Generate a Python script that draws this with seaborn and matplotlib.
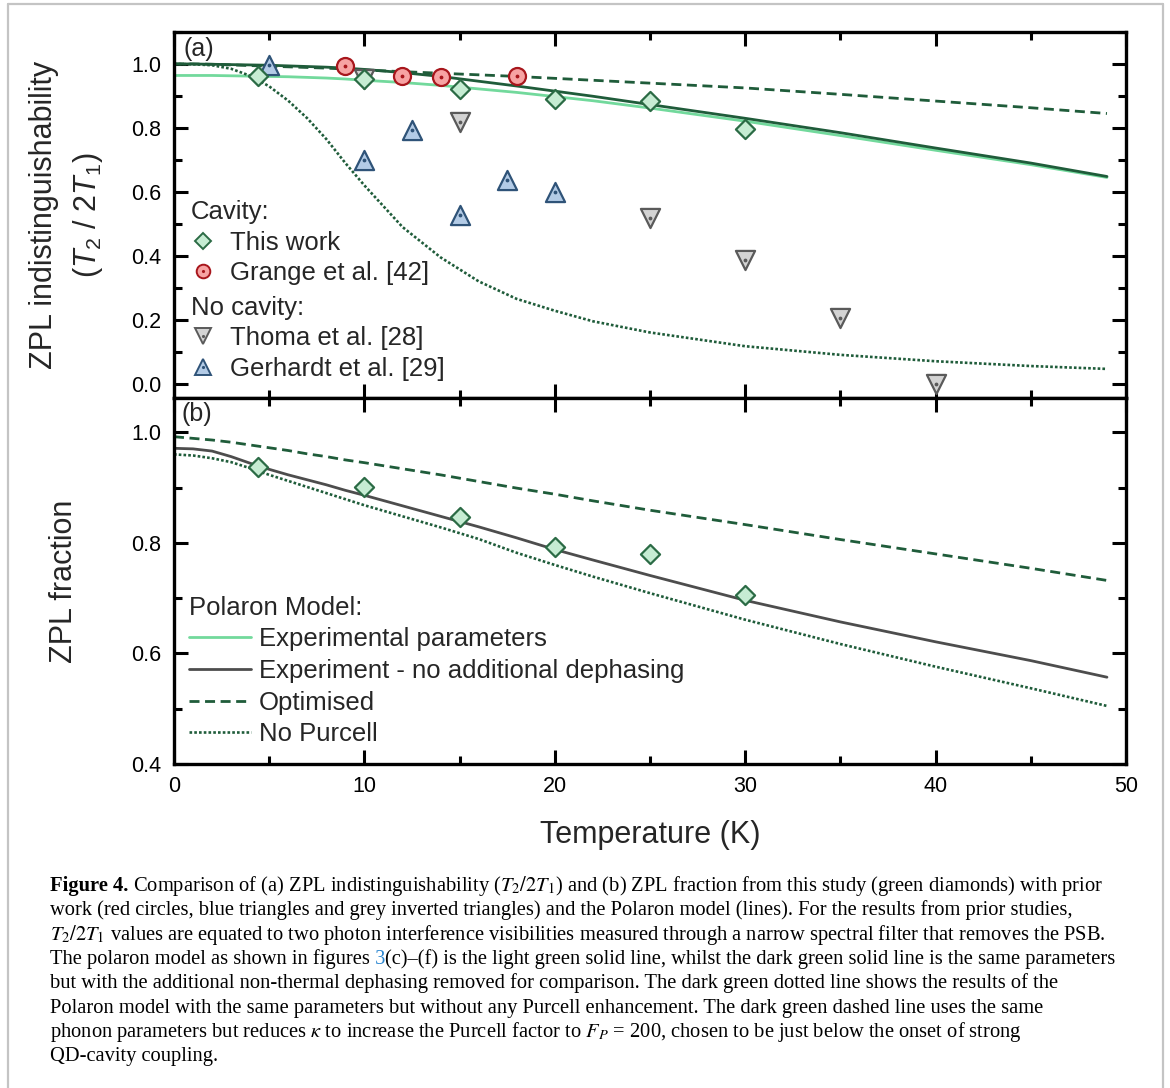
import matplotlib
matplotlib.use("Agg")
import matplotlib.pyplot as plt
import seaborn as sns
import pandas as pd
from matplotlib import font_manager
from matplotlib.ticker import MultipleLocator
from matplotlib.lines import Line2D

# measured points, panel (a): ZPL indistinguishability
temp_work = [4.4, 10, 15, 20, 25, 30]
indist_work = [0.961, 0.954, 0.922, 0.891, 0.885, 0.797]
temp_grange = [9, 12, 14, 18]
indist_grange = [0.993, 0.961, 0.960, 0.963]
temp_thoma = [10, 15, 25, 30, 35, 40]
indist_thoma = [0.953, 0.820, 0.517, 0.388, 0.206, 0.0]
temp_gerhardt = [5, 10, 12.5, 15, 17.5, 20]
indist_gerhardt = [0.998, 0.701, 0.793, 0.529, 0.638, 0.599]

# measured points, panel (b): ZPL fraction (same temperatures as temp_work)
frac_work = [0.937, 0.901, 0.846, 0.793, 0.780, 0.706]

# polaron model curves
model_temp = [0, 1, 2, 3, 4, 5, 6, 7, 8, 9, 10, 12, 14, 16, 18, 20, 22, 25, 30, 35, 40, 45, 49]
exp_a = [0.964, 0.964, 0.964, 0.963, 0.962, 0.961, 0.960, 0.958, 0.956, 0.953, 0.949, 0.942, 0.933, 0.922,
         0.911, 0.898, 0.885, 0.862, 0.821, 0.776, 0.730, 0.685, 0.645]
nodeph_a = [1.0, 1.0, 0.999, 0.998, 0.997, 0.996, 0.994, 0.992, 0.990, 0.987, 0.983, 0.973, 0.961, 0.946,
            0.931, 0.915, 0.899, 0.873, 0.830, 0.785, 0.737, 0.690, 0.648]
opt_a = [1.0, 1.0, 0.999, 0.997, 0.995, 0.993, 0.991, 0.989, 0.987, 0.984, 0.981, 0.976, 0.971, 0.966,
         0.961, 0.955, 0.949, 0.940, 0.925, 0.905, 0.884, 0.863, 0.845]
nopurcell_a = [1.0, 0.999, 0.996, 0.985, 0.963, 0.930, 0.885, 0.830, 0.765, 0.690, 0.620, 0.490, 0.395, 0.320,
               0.265, 0.228, 0.195, 0.160, 0.117, 0.090, 0.070, 0.055, 0.046]
nodeph_b = [0.971, 0.970, 0.966, 0.956, 0.944, 0.933, 0.923, 0.914, 0.905, 0.895, 0.886, 0.867, 0.848, 0.829,
            0.809, 0.788, 0.769, 0.741, 0.696, 0.657, 0.621, 0.587, 0.557]
opt_b = [0.992, 0.989, 0.986, 0.982, 0.977, 0.972, 0.967, 0.961, 0.956, 0.950, 0.945, 0.934, 0.923, 0.911,
         0.899, 0.888, 0.876, 0.859, 0.833, 0.806, 0.780, 0.754, 0.732]
nopurcell_b = [0.960, 0.958, 0.953, 0.946, 0.935, 0.923, 0.912, 0.901, 0.890, 0.879, 0.868, 0.848, 0.828, 0.807,
               0.782, 0.760, 0.739, 0.709, 0.661, 0.617, 0.576, 0.537, 0.505]

DARK = "#1f5c3a"
LIGHT = "#72d99c"
GREY_LINE = "#4d4d4d"
DOTTED = (0, (1.0, 0.8))
DASHED = (0, (3.6, 2.0))

sns.set_theme(style="ticks")
names = {f.name for f in font_manager.fontManager.ttflist}
narrow = "Liberation Sans Narrow" if "Liberation Sans Narrow" in names else "Liberation Sans"
plt.rcParams["font.family"] = ["Liberation Sans", "DejaVu Sans"]
plt.rcParams["mathtext.fontset"] = "custom"
plt.rcParams["mathtext.rm"] = narrow
plt.rcParams["mathtext.it"] = narrow + ":italic"
plt.rcParams["axes.linewidth"] = 2.4
plt.rcParams["axes.edgecolor"] = "black"

W, H = 1170, 1088
fig = plt.figure(figsize=(W / 100, H / 100), dpi=100)
left, width = 174 / W, (1126 - 174) / W
ax_a = fig.add_axes([left, 1 - 398 / H, width, 366 / H])
ax_b = fig.add_axes([left, 1 - 764 / H, width, 366 / H])

# --- panel (a) lines
sns.lineplot(x=model_temp, y=exp_a, ax=ax_a, color=LIGHT, lw=2.0)
sns.lineplot(x=model_temp, y=nodeph_a, ax=ax_a, color=DARK, lw=2.0)
sns.lineplot(x=model_temp, y=opt_a, ax=ax_a, color=DARK, lw=2.0, linestyle=DASHED)
sns.lineplot(x=model_temp, y=nopurcell_a, ax=ax_a, color=DARK, lw=1.9, linestyle=DOTTED)

# --- panel (a) markers
styles = {
    "work": dict(marker="D", s=95, color="#c6ecd3", edgecolor="#2b6b45"),
    "grange": dict(marker="o", s=150, color="#f7a3a3", edgecolor="#a8161c"),
    "thoma": dict(marker="v", s=190, color="#d3d3d3", edgecolor="#5a5a5a"),
    "gerhardt": dict(marker="^", s=190, color="#b3cbe6", edgecolor="#2f5378"),
}
sns.scatterplot(x=temp_thoma, y=indist_thoma, ax=ax_a, linewidth=1.6, zorder=3, **styles["thoma"])
sns.scatterplot(x=temp_gerhardt, y=indist_gerhardt, ax=ax_a, linewidth=1.6, zorder=3, **styles["gerhardt"])
sns.scatterplot(x=temp_grange, y=indist_grange, ax=ax_a, linewidth=1.6, zorder=4, **styles["grange"])
sns.scatterplot(x=temp_work, y=indist_work, ax=ax_a, linewidth=1.6, zorder=5, **styles["work"])
for tx, ty, key, z in [(temp_thoma, indist_thoma, "thoma", 3.5), (temp_gerhardt, indist_gerhardt, "gerhardt", 3.5),
                       (temp_grange, indist_grange, "grange", 4.5)]:
    ax_a.scatter(tx, ty, s=3, color=styles[key]["edgecolor"], zorder=z)

# --- panel (b)
sns.lineplot(x=model_temp, y=nodeph_b, ax=ax_b, color=GREY_LINE, lw=2.0)
sns.lineplot(x=model_temp, y=opt_b, ax=ax_b, color=DARK, lw=2.0, linestyle=DASHED)
sns.lineplot(x=model_temp, y=nopurcell_b, ax=ax_b, color=DARK, lw=1.9, linestyle=DOTTED)
sns.scatterplot(x=temp_work, y=frac_work, ax=ax_b, linewidth=1.6, zorder=5, **styles["work"])

# --- axes cosmetics
for ax in (ax_a, ax_b):
    ax.set_xlim(0, 50)
    ax.xaxis.set_major_locator(MultipleLocator(10))
    ax.xaxis.set_minor_locator(MultipleLocator(5))
    ax.yaxis.set_major_locator(MultipleLocator(0.2))
    ax.yaxis.set_minor_locator(MultipleLocator(0.1))
    ax.tick_params(which="both", direction="in", top=True, right=True, width=2.2, labelsize=15.5,
                   colors="black", pad=9)
    ax.tick_params(which="major", length=10)
    ax.tick_params(which="minor", length=6)
    for sp in ax.spines.values():
        sp.set_linewidth(2.4)
ax_a.set_ylim(-0.045, 1.1)
ax_b.set_ylim(0.4, 1.062)
ax_a.tick_params(labelbottom=False)
ax_a.set_xlabel("")
ax_b.set_xlabel("Temperature (K)", fontsize=22, labelpad=16)

ax_a.set_ylabel("ZPL indistinguishability\n($T_2$ / 2$T_1$)", fontsize=22, family=narrow,
                linespacing=1.5)
ax_b.set_ylabel("ZPL fraction", fontsize=22, family=narrow)
ax_a.yaxis.set_label_coords(-0.072, 0.5)
ax_b.yaxis.set_label_coords(-0.1, 0.5)

ax_a.text(0.01, 0.985, "(a)", transform=ax_a.transAxes, fontsize=18, va="top", ha="left")
ax_b.text(0.008, 0.99, "(b)", transform=ax_b.transAxes, fontsize=18, va="top", ha="left")


# --- legends
def mk(key):
    st = styles[key]
    shape = Line2D([], [], ls="none", marker=st["marker"], ms=st["s"] ** 0.5 * 0.8,
                   mfc=st["color"], mec=st["edgecolor"], mew=1.4)
    if key == "work":
        return shape
    dot = Line2D([], [], ls="none", marker=".", ms=2.5, color=st["edgecolor"])
    return (shape, dot)


LEG_FS = 18.5
leg_kw = dict(loc="upper left", frameon=False, alignment="left", fontsize=LEG_FS, title_fontsize=LEG_FS,
              handlelength=0.95, handletextpad=0.55, borderpad=0, labelspacing=0.25, borderaxespad=0)
leg1 = ax_a.legend([mk("work"), mk("grange")], ["This work", "Grange et al. [42]"],
                   title="Cavity:", bbox_to_anchor=(0.018, 0.54), **leg_kw)
ax_a.add_artist(leg1)
ax_a.legend([mk("thoma"), mk("gerhardt")], ["Thoma et al. [28]", "Gerhardt et al. [29]"],
            title="No cavity:", bbox_to_anchor=(0.018, 0.279), **leg_kw)

line_handles = [Line2D([], [], color=LIGHT, lw=2.0), Line2D([], [], color=GREY_LINE, lw=2.0),
                Line2D([], [], color=DARK, lw=2.0, ls=DASHED), Line2D([], [], color=DARK, lw=1.9, ls=DOTTED)]
ax_b.legend(line_handles, ["Experimental parameters", "Experiment - no additional dephasing",
                           "Optimised", "No Purcell"],
            title="Polaron Model:", loc="upper left", frameon=False, alignment="left", fontsize=LEG_FS,
            title_fontsize=LEG_FS, handlelength=2.4, handletextpad=0.3, borderpad=0, labelspacing=0.30,
            borderaxespad=0, bbox_to_anchor=(0.016, 0.46))

# --- frame around figure
for xs, ys in [((8 / W, 8 / W), (0, 1 - 4 / H)), ((1163 / W, 1163 / W), (0, 1 - 4 / H)),
               ((8 / W, 1163 / W), (1 - 4 / H, 1 - 4 / H))]:
    fig.add_artist(Line2D(xs, ys, transform=fig.transFigure, color="#c4c4c4", lw=1.6))

# --- caption
serif = ["Liberation Serif", "DejaVu Serif"]
BLUE = "#2a86d1"
caption = [
    [("Figure 4.", "bold", "black"),
     (" Comparison of (a) ZPL indistinguishability ($T_2/2T_1$) and (b) ZPL fraction from this study (green diamonds) with prior",
      "normal", "black")],
    [("work (red circles, blue triangles and grey inverted triangles) and the Polaron model (lines). For the results from prior studies,",
      "normal", "black")],
    [("$T_2/2T_1$ values are equated to two photon interference visibilities measured through a narrow spectral filter that removes the PSB.",
      "normal", "black")],
    [("The polaron model as shown in figures", "normal", "black"), (" 3", "normal", BLUE),
     ("(c)–(f) is the light green solid line, whilst the dark green solid line is the same parameters", "normal", "black")],
    [("but with the additional non-thermal dephasing removed for comparison. The dark green dotted line shows the results of the",
      "normal", "black")],
    [("Polaron model with the same parameters but without any Purcell enhancement. The dark green dashed line uses the same",
      "normal", "black")],
    [("phonon parameters but reduces $\\kappa$ to increase the Purcell factor to $F_P$ = 200, chosen to be just below the onset of strong",
      "normal", "black")],
    [("QD-cavity coupling.", "normal", "black")],
]
renderer = fig.canvas.get_renderer()
cap_size = 14.8
for i, parts in enumerate(caption):
    x = 50 / W
    y = 1 - (891 + i * 24.3) / H
    for txt, weight, col in parts:
        t = fig.text(x, y, txt, fontsize=cap_size, weight=weight, color=col, family=serif,
                     math_fontfamily="stix", va="baseline", ha="left")
        x += t.get_window_extent(renderer).width / W

fig.savefig("out.png", dpi=100, facecolor="white")
